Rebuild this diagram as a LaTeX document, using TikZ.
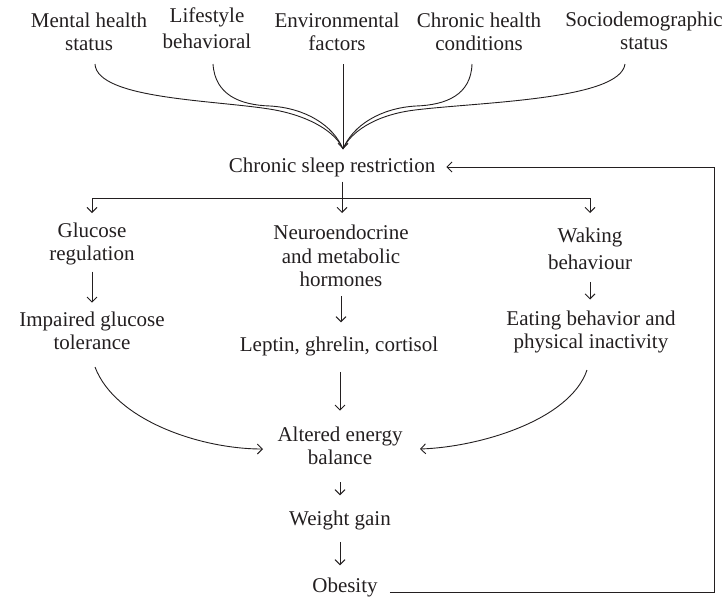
\documentclass[tikz,border=0pt]{standalone}
\usepackage{fontspec}
\setmainfont{Liberation Serif}
\usetikzlibrary{arrows.meta,calc}
\definecolor{ink}{RGB}{35,31,32}
\tikzset{
  lbl/.style={font=\fontsize{21}{23.5}\selectfont, align=center, inner sep=0pt, text=ink},
  ln/.style={draw=ink, line width=0.9pt},
  arr/.style={ln, -{Straight Barb[length=5pt,width=10pt]}},
}
\begin{document}
\begin{tikzpicture}[x=1pt,y=-1pt]
\useasboundingbox (0,0) rectangle (722,600);
% nodes
\node[lbl] (mh)  at (89,32)  {Mental health\\status};
\node[lbl] (ls)  at (207,28) {Lifestyle\\[2pt]behavioral};
\node[lbl] (env) at (337,32) {Environmental\\factors};
\node[lbl] (chc) at (479,32) {Chronic health\\conditions};
\node[lbl] (soc) at (644,31) {Sociodemographic\\status};
\node[lbl] (csr) at (332,167) {Chronic sleep restriction};
\node[lbl] (glu) at (92,244)  {Glucose\\regulation};
\node[lbl] (neu) at (341,256) {Neuroendocrine\\and metabolic\\hormones};
\node[lbl] (wak) at (590,249) {Waking\\[3pt]behaviour};
\node[lbl] (imp) at (92,331)  {Impaired glucose\\tolerance};
\node[lbl] (lep) at (339,346) {Leptin, ghrelin, cortisol};
\node[lbl] (eat) at (591,332) {Eating behavior and\\physical inactivity};
\node[lbl] (alt) at (340,446) {Altered energy\\balance};
\node[lbl] (wg)  at (340,520) {Weight gain};
\node[lbl] (ob)  at (345,587) {Obesity};
% coordinates
\coordinate (conv) at (343,149);
\coordinate (mhS)  at (95,64);
\coordinate (lsS)  at (213,64);
\coordinate (envS) at (343,64);
\coordinate (chcS) at (472,64);
\coordinate (socS) at (625,64);
\coordinate (split) at (342,198);
\coordinate (tipy) at (0,213);
\coordinate (impE) at (95,367);
\coordinate (eatE) at (587,370);
\coordinate (altW) at (263,449);
\coordinate (altE) at (420,449);
\coordinate (fbR) at (714,0);
% converging curves
\draw[ln] (mhS) .. controls (97,100) and (220,100) .. (275,110) .. controls (312,117) and (336,133) .. (conv);
\draw[ln] (lsS) .. controls (215,95) and (240,105) .. (270,106) .. controls (305,108) and (333,125) .. (conv);
\draw[arr] (envS) -- (conv);
\draw[ln] (chcS) .. controls (471,95) and (446,105) .. (416,106) .. controls (381,108) and (353,125) .. (conv);
\draw[ln] (socS) .. controls (620,100) and (480,102) .. (415,110) .. controls (374,115) and (350,133) .. (conv);
% branching
\draw[ln, shorten <=5pt] (csr.south -| split) -- (split);
\draw[ln] (glu.north |- split) -- (wak.north |- split);
\draw[arr] (glu.north |- split) -- (glu.north |- tipy);
\draw[arr] (split) -- (split |- tipy);
\draw[arr] (wak.north |- split) -- (wak.north |- tipy);
% vertical arrows
\draw[arr, shorten <=6pt, shorten >=9pt] (glu.south) -- (glu.south |- imp.north);
\draw[arr, shorten <=9pt, shorten >=14pt] (neu.south) -- (neu.south |- lep.north);
\draw[arr, shorten <=12pt, shorten >=11pt] (wak.south) -- (wak.south |- eat.north);
\draw[arr, shorten <=16pt, shorten >=16pt] (alt.north |- lep.south) -- (alt.north);
\draw[arr, shorten <=17pt, shorten >=15pt] (alt.south) -- (wg.north);
\draw[arr, shorten <=12pt, shorten >=12pt] (wg.south) -- (wg.south |- ob.north);
% side curves
\draw[arr] (impE) .. controls (115,420) and (200,449) .. (altW);
\draw[arr] (eatE) .. controls (570,420) and (480,447) .. (altE);
% feedback loop
\draw[arr, shorten <=12pt, shorten >=11pt] (ob.base east) -- (ob.base east -| fbR) -- (fbR |- csr.east) -- (csr.east);
\end{tikzpicture}
\end{document}
